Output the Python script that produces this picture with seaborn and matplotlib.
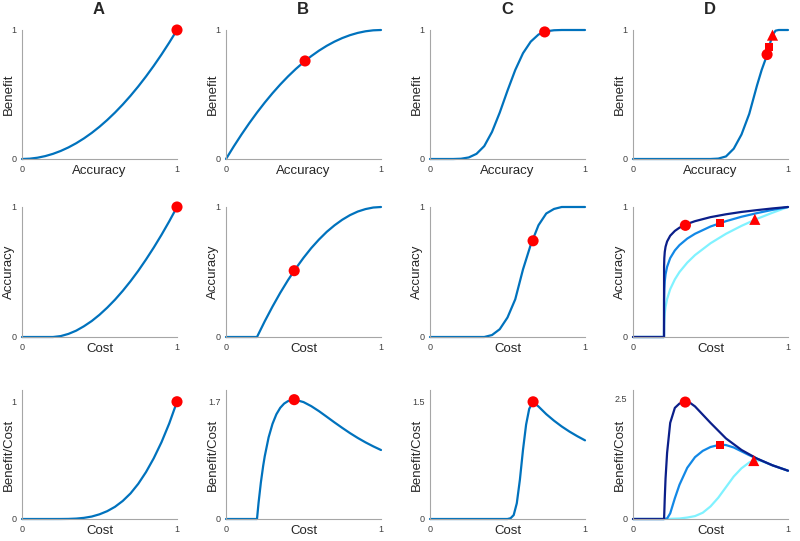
import matplotlib
matplotlib.use("Agg")
import matplotlib.pyplot as plt
import seaborn as sns

# ---- values ----
# Row 1: benefit as a function of accuracy
acc_grid = [0.0, 0.05, 0.1, 0.15, 0.2, 0.25, 0.3, 0.35, 0.4, 0.45, 0.5,
            0.55, 0.6, 0.65, 0.7, 0.75, 0.8, 0.85, 0.9, 0.95, 1.0]
benefit_A = [0.0, 0.0025, 0.01, 0.0225, 0.04, 0.0625, 0.09, 0.1225, 0.16, 0.2025, 0.25,
             0.3025, 0.36, 0.4225, 0.49, 0.5625, 0.64, 0.7225, 0.81, 0.9025, 1.0]
benefit_B = [0.0, 0.0975, 0.19, 0.2775, 0.36, 0.4375, 0.51, 0.5775, 0.64, 0.6975, 0.75,
             0.7975, 0.84, 0.8775, 0.91, 0.9375, 0.96, 0.9775, 0.99, 0.9975, 1.0]
benefit_C = [0.0, 0.0, 0.0, 0.0, 0.002, 0.012, 0.04, 0.10, 0.21, 0.36, 0.53,
             0.69, 0.82, 0.91, 0.965, 0.99, 0.998, 1.0, 1.0, 1.0, 1.0]
acc_D = [0.0, 0.5, 0.55, 0.6, 0.65, 0.7, 0.75, 0.8, 0.83, 0.86, 0.88, 0.9, 0.92, 0.94, 1.0]
benefit_D = [0.0, 0.0, 0.003, 0.02, 0.08, 0.19, 0.35, 0.57, 0.69, 0.79, 0.88, 0.96, 0.995, 1.0, 1.0]

# Row 2: accuracy as a function of cost
cost_AB = [0.0, 0.2, 0.25, 0.3, 0.35, 0.4, 0.45, 0.5, 0.55, 0.6,
           0.65, 0.7, 0.75, 0.8, 0.85, 0.9, 0.95, 1.0]
accuracy_A = [0.0, 0.0, 0.007, 0.024, 0.049, 0.083, 0.123, 0.171, 0.226, 0.287,
              0.355, 0.429, 0.509, 0.596, 0.688, 0.786, 0.890, 1.0]
accuracy_B = [0.0, 0.0, 0.121, 0.234, 0.340, 0.4375, 0.527, 0.609, 0.684, 0.75,
              0.809, 0.859, 0.902, 0.9375, 0.965, 0.984, 0.996, 1.0]
cost_C = [0.0, 0.35, 0.4, 0.45, 0.5, 0.55, 0.6, 0.65, 0.7, 0.75, 0.8, 0.85, 0.9, 1.0]
accuracy_C = [0.0, 0.0, 0.015, 0.06, 0.15, 0.29, 0.52, 0.71, 0.86, 0.95, 0.985, 1.0, 1.0, 1.0]
cost_D = [0.0, 0.2, 0.2005, 0.202, 0.205, 0.21, 0.22, 0.24, 0.27, 0.3,
          0.35, 0.4, 0.5, 0.6, 0.7, 0.8, 0.9, 1.0]
accuracy_D_dark = [0.0, 0.0, 0.541, 0.607, 0.655, 0.694, 0.735, 0.779, 0.816, 0.841,
                   0.870, 0.891, 0.922, 0.944, 0.962, 0.976, 0.989, 1.0]
accuracy_D_mid = [0.0, 0.0, 0.293, 0.368, 0.429, 0.482, 0.540, 0.607, 0.666, 0.707,
                  0.757, 0.794, 0.850, 0.891, 0.925, 0.953, 0.978, 1.0]
accuracy_D_light = [0.0, 0.0, 0.086, 0.136, 0.184, 0.232, 0.292, 0.368, 0.443, 0.5,
                    0.572, 0.630, 0.721, 0.794, 0.855, 0.909, 0.956, 1.0]

# Row 3: benefit / cost as a function of cost
ratio_A = [0.0, 0.0, 0.0001, 0.0008, 0.0035, 0.0098, 0.021, 0.040, 0.067, 0.104,
           0.154, 0.218, 0.300, 0.400, 0.518, 0.655, 0.815, 1.0]
cost_B3 = [0.0, 0.2, 0.21, 0.225, 0.24, 0.25, 0.275, 0.3, 0.325, 0.35, 0.375, 0.4,
           0.425, 0.45, 0.5, 0.55, 0.6, 0.65, 0.7, 0.75, 0.8, 0.85, 0.9, 0.95, 1.0]
ratio_B = [0.0, 0.0, 0.234, 0.53, 0.773, 0.91, 1.184, 1.379, 1.518, 1.612, 1.673, 1.709,
           1.725, 1.726, 1.695, 1.636, 1.563, 1.482, 1.400, 1.321, 1.245, 1.175, 1.111,
           1.053, 1.0]
cost_C3 = [0.0, 0.5, 0.52, 0.54, 0.56, 0.58, 0.6, 0.62, 0.64, 0.665,
           0.7, 0.75, 0.8, 0.85, 0.9, 0.95, 1.0]
ratio_C = [0.0, 0.0, 0.01, 0.05, 0.2, 0.5, 0.88, 1.2, 1.4, 1.49,
           1.43, 1.333, 1.25, 1.176, 1.111, 1.053, 1.0]
cost_D3_dark = [0.0, 0.2, 0.2005, 0.202, 0.205, 0.21, 0.22, 0.24, 0.27, 0.3,
                0.337, 0.37, 0.4, 0.45, 0.5, 0.6, 0.7, 0.8, 0.9, 1.0]
ratio_D_dark = [0.0, 0.0, 0.012, 0.14, 0.44, 0.84, 1.37, 1.99, 2.30, 2.39,
                2.42, 2.40, 2.33, 2.16, 1.99, 1.667, 1.429, 1.25, 1.111, 1.0]
cost_D3_mid = [0.0, 0.2, 0.22, 0.24, 0.27, 0.3, 0.35, 0.4, 0.45, 0.5,
               0.562, 0.6, 0.65, 0.7, 0.75, 0.8, 0.9, 1.0]
ratio_D_mid = [0.0, 0.0, 0.011, 0.117, 0.43, 0.71, 1.06, 1.28, 1.41, 1.49,
               1.54, 1.53, 1.48, 1.40, 1.32, 1.25, 1.111, 1.0]
cost_D3_light = [0.0, 0.2, 0.3, 0.35, 0.4, 0.45, 0.5, 0.55, 0.6, 0.65,
                 0.7, 0.75, 0.779, 0.82, 0.9, 1.0]
ratio_D_light = [0.0, 0.0, 0.01, 0.03, 0.06, 0.13, 0.26, 0.44, 0.66, 0.88,
                 1.05, 1.17, 1.21, 1.21, 1.111, 1.0]

# optimum markers (x, y) per panel
opt_row1 = {"A": (1.0, 1.0), "B": (0.51, 0.76), "C": (0.74, 0.985)}
opt_row2 = {"A": (1.0, 1.0), "B": (0.44, 0.51), "C": (0.665, 0.74)}
opt_row3 = {"A": (1.0, 1.0), "B": (0.44, 1.73), "C": (0.665, 1.49)}
opt_D_x1 = [0.865, 0.876, 0.90]
opt_D_y1 = [0.81, 0.87, 0.96]
opt_D_x2 = [0.338, 0.564, 0.786]
opt_D_y2 = [0.859, 0.877, 0.905]
opt_D_x3 = [0.337, 0.562, 0.779]
opt_D_y3 = [2.42, 1.54, 1.21]

peak_ticks = {"A": ("1", 1.0, 1.1), "B": ("1.7", 1.7, 1.87),
              "C": ("1.5", 1.5, 1.64), "D": ("2.5", 2.5, 2.67)}

# ---- styling ----
sns.set_style("white")
plt.rcParams["font.family"] = ["Liberation Sans", "DejaVu Sans"]

BLUE = "#0072BD"
DARK = "#0b1f8a"
MID = "#1288e6"
LIGHT = "#80f2ff"
RED = "#ff0000"
MARKERS = ["o", "s", "^"]
MSIZE = {"o": 64, "s": 32, "^": 64}

W, H = 800, 541
fig = plt.figure(figsize=(W / 100, H / 100), dpi=100)

lefts = [22, 226, 430, 633]
row_px = [(30, 159), (207, 337), (390, 519)]
letters = ["A", "B", "C", "D"]


def make_ax(col, row):
    top, bot = row_px[row]
    ax = fig.add_axes([lefts[col] / W, 1 - bot / H, 155 / W, (bot - top) / H])
    for s in ["top", "right"]:
        ax.spines[s].set_visible(False)
    for s in ["left", "bottom"]:
        ax.spines[s].set_color("#a6a6a6")
        ax.spines[s].set_linewidth(0.8)
    ax.tick_params(direction="in", length=2, width=0.6, color="#a6a6a6",
                   labelsize=6.5, labelcolor="#404040")
    ax.tick_params(axis="x", pad=4)
    ax.tick_params(axis="y", pad=4)
    ax.set_xlim(0, 1)
    ax.set_xticks([0, 1])
    ax.set_xticklabels(["0", "1"])
    return ax


def line(ax, x, y, color):
    sns.lineplot(x=x, y=y, ax=ax, color=color, linewidth=1.6,
                 estimator=None, sort=False, clip_on=False)


def dot(ax, x, y, marker="o"):
    sns.scatterplot(x=x, y=y, ax=ax, marker=marker, s=MSIZE[marker], color=RED,
                    edgecolor="none", linewidth=0, zorder=5, clip_on=False)


def labels(ax, xl, yl):
    ax.set_xlabel(xl, fontsize=9.5, color="#262626")
    ax.set_ylabel(yl, fontsize=9.5, color="#262626")
    ax.xaxis.set_label_coords(0.5, -0.045)
    ax.yaxis.set_label_coords(-0.045, 0.5)


row1_data = {"A": benefit_A, "B": benefit_B, "C": benefit_C}
row2_data = {"A": (cost_AB, accuracy_A), "B": (cost_AB, accuracy_B), "C": (cost_C, accuracy_C)}
row3_data = {"A": (cost_AB, ratio_A), "B": (cost_B3, ratio_B), "C": (cost_C3, ratio_C)}

for col, L in enumerate(letters):
    # row 1
    ax = make_ax(col, 0)
    if L == "D":
        line(ax, acc_D, benefit_D, BLUE)
        for mx, my, mk in zip(opt_D_x1, opt_D_y1, MARKERS):
            dot(ax, [mx], [my], mk)
    else:
        line(ax, acc_grid, row1_data[L], BLUE)
        dot(ax, [opt_row1[L][0]], [opt_row1[L][1]])
    ax.set_ylim(0, 1)
    ax.set_yticks([0, 1])
    ax.set_yticklabels(["0", "1"])
    labels(ax, "Accuracy", "Benefit")
    fig.text((lefts[col] + 77) / W, 1 - 10 / H, L, ha="center", va="center",
             fontsize=12, fontweight="bold")

    # row 2
    ax = make_ax(col, 1)
    if L == "D":
        line(ax, cost_D, accuracy_D_light, LIGHT)
        line(ax, cost_D, accuracy_D_mid, MID)
        line(ax, cost_D, accuracy_D_dark, DARK)
        for mx, my, mk in zip(opt_D_x2, opt_D_y2, MARKERS):
            dot(ax, [mx], [my], mk)
    else:
        line(ax, row2_data[L][0], row2_data[L][1], BLUE)
        dot(ax, [opt_row2[L][0]], [opt_row2[L][1]])
    ax.set_ylim(0, 1)
    ax.set_yticks([0, 1])
    ax.set_yticklabels(["0", "1"])
    labels(ax, "Cost", "Accuracy")

    # row 3
    ax = make_ax(col, 2)
    if L == "D":
        line(ax, cost_D3_light, ratio_D_light, LIGHT)
        line(ax, cost_D3_mid, ratio_D_mid, MID)
        line(ax, cost_D3_dark, ratio_D_dark, DARK)
        for mx, my, mk in zip(opt_D_x3, opt_D_y3, MARKERS):
            dot(ax, [mx], [my], mk)
    else:
        line(ax, row3_data[L][0], row3_data[L][1], BLUE)
        dot(ax, [opt_row3[L][0]], [opt_row3[L][1]])
    lab, tick, top = peak_ticks[L]
    ax.set_ylim(0, top)
    ax.set_yticks([0, tick])
    ax.set_yticklabels(["0", lab])
    labels(ax, "Cost", "Benefit/Cost")

fig.savefig("out.png", dpi=100)
